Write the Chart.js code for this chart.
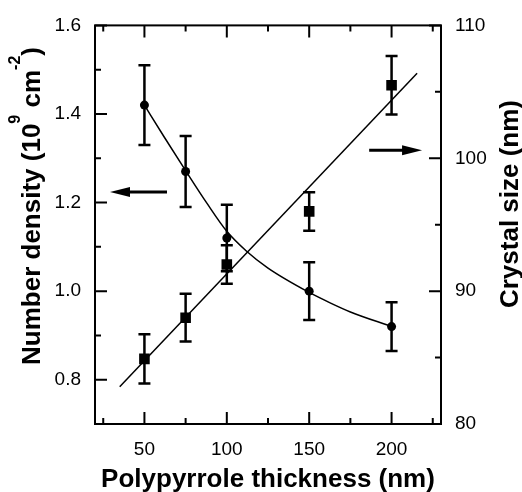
<!DOCTYPE html>
<html>
<head>
<meta charset="utf-8">
<script src="https://cdn.jsdelivr.net/npm/chart.js@4.4.1/dist/chart.umd.min.js"></script>
<style>
  body { margin: 0; background: #fff; }
</style>
</head>
<body>
<canvas id="grafico" width="522" height="492"></canvas>
<script>
// measured points
const thickness = [50, 75, 100, 150, 200];
const density = [1.42, 1.27, 1.12, 1.00, 0.92];
const densityErr = [0.09, 0.08, 0.075, 0.065, 0.055];
const crystal = [84.9, 88.0, 92.0, 96.0, 105.5];
const crystalErr = [1.85, 1.8, 1.45, 1.45, 2.2];

// fitted curves
const curveX = [50, 62, 75, 88, 100, 112, 125, 150, 163, 175, 200];
const curveDensity = [1.42, 1.348, 1.272, 1.198, 1.135, 1.09, 1.052, 0.997, 0.973, 0.953, 0.92];
const lineX = [35, 215.5];
const lineCrystal = [82.8, 106.4];

// arrows showing which axis belongs to which curve
const arrowLeftX = [63.7, 29.1];
const arrowLeftY = 1.224;
const arrowRightX = [186.4, 218.5];
const arrowRightY = 100.6;

// ticks
const xMajor = [50, 100, 150, 200];
const xMinor = [25, 75, 125, 175, 225];
const yMajor = [0.8, 1.0, 1.2, 1.4, 1.6];
const yMinor = [0.9, 1.1, 1.3, 1.5];
const y1Major = [80, 90, 100, 110];
const y1Minor = [85, 95, 105];

const FONT = '"Liberation Sans", Arial, sans-serif';

function pts(xs, ys) {
  return xs.map((x, i) => ({ x: x, y: ys[i] }));
}

const extras = {
  id: 'extras',
  afterDatasetsDraw(chart) {
    const ctx = chart.ctx;
    const sx = chart.scales.x, sy = chart.scales.y, sy1 = chart.scales.y1;
    const a = chart.chartArea;
    ctx.save();
    ctx.strokeStyle = '#000';
    ctx.fillStyle = '#000';

    // error bars
    ctx.lineWidth = 2.5;
    function errBar(x, v, e, s) {
      const px = sx.getPixelForValue(x);
      const top = s.getPixelForValue(v + e), bot = s.getPixelForValue(v - e);
      ctx.beginPath();
      ctx.moveTo(px, top); ctx.lineTo(px, bot);
      ctx.moveTo(px - 6, top); ctx.lineTo(px + 6, top);
      ctx.moveTo(px - 6, bot); ctx.lineTo(px + 6, bot);
      ctx.stroke();
    }
    thickness.forEach((x, i) => {
      errBar(x, density[i], densityErr[i], sy);
      errBar(x, crystal[i], crystalErr[i], sy1);
    });

    // arrows
    function arrow(x0, x1, yv, s) {
      const p0 = sx.getPixelForValue(x0), p1 = sx.getPixelForValue(x1);
      const py = s.getPixelForValue(yv);
      const dir = p1 > p0 ? 1 : -1;
      ctx.lineWidth = 3;
      ctx.beginPath();
      ctx.moveTo(p0, py); ctx.lineTo(p1 - dir * 14, py);
      ctx.stroke();
      ctx.beginPath();
      ctx.moveTo(p1, py);
      ctx.lineTo(p1 - dir * 20, py - 5);
      ctx.lineTo(p1 - dir * 20, py + 5);
      ctx.closePath();
      ctx.fill();
    }
    arrow(arrowLeftX[0], arrowLeftX[1], arrowLeftY, sy);
    arrow(arrowRightX[0], arrowRightX[1], arrowRightY, sy1);

    // frame
    ctx.lineWidth = 2;
    ctx.strokeRect(a.left, a.top, a.right - a.left, a.bottom - a.top);

    // inward ticks, bottom and top
    ctx.beginPath();
    xMajor.concat(xMinor).forEach(v => {
      const len = xMajor.includes(v) ? 12 : 6;
      const px = sx.getPixelForValue(v);
      ctx.moveTo(px, a.bottom); ctx.lineTo(px, a.bottom - len);
      ctx.moveTo(px, a.top); ctx.lineTo(px, a.top + len);
    });
    yMajor.concat(yMinor).forEach(v => {
      const len = yMajor.includes(v) ? 12 : 6;
      const py = sy.getPixelForValue(v);
      ctx.moveTo(a.left, py); ctx.lineTo(a.left + len, py);
    });
    y1Major.concat(y1Minor).forEach(v => {
      const len = y1Major.includes(v) ? 12 : 6;
      const py = sy1.getPixelForValue(v);
      ctx.moveTo(a.right, py); ctx.lineTo(a.right - len, py);
    });
    ctx.stroke();
    ctx.restore();
  },
  afterDraw(chart) {
    const ctx = chart.ctx;
    ctx.save();
    ctx.fillStyle = '#000';
    ctx.textBaseline = 'alphabetic';

    // x title
    ctx.font = 'bold 26px ' + FONT;
    ctx.textAlign = 'center';
    ctx.fillText('Polypyrrole thickness (nm)', 268, 487);

    // right title
    ctx.save();
    ctx.translate(508, 204);
    ctx.rotate(-Math.PI / 2);
    ctx.fillText('Crystal size (nm)', 0, 9.5);
    ctx.restore();

    // left title with superscripts
    const parts = [
      { t: 'Number density (10', sup: false },
      { t: '9', sup: true },
      { t: ' cm', sup: false },
      { t: '-2', sup: true },
      { t: ')', sup: false }
    ];
    const big = 'bold 26px ' + FONT, small = 'bold 16px ' + FONT;
    let total = 0;
    parts.forEach(p => { ctx.font = p.sup ? small : big; p.w = ctx.measureText(p.t).width; total += p.w; });
    ctx.save();
    ctx.translate(30, 206);
    ctx.rotate(-Math.PI / 2);
    ctx.textAlign = 'left';
    let cx = -total / 2;
    parts.forEach(p => {
      ctx.font = p.sup ? small : big;
      ctx.fillText(p.t, cx, p.sup ? -10 : 10);
      cx += p.w;
    });
    ctx.restore();
    ctx.restore();
  }
};

new Chart(document.getElementById('grafico'), {
  type: 'scatter',
  data: {
    datasets: [
      {
        label: 'Number density',
        data: pts(thickness, density),
        yAxisID: 'y',
        pointStyle: 'circle',
        pointRadius: 4.5,
        backgroundColor: '#000',
        borderColor: '#000',
        borderWidth: 0
      },
      {
        label: 'Crystal size',
        data: pts(thickness, crystal),
        yAxisID: 'y1',
        pointStyle: 'rect',
        pointRadius: 7.5,
        backgroundColor: '#000',
        borderColor: '#000',
        borderWidth: 0
      },
      {
        label: 'density fit',
        data: pts(curveX, curveDensity),
        yAxisID: 'y',
        showLine: true,
        pointRadius: 0,
        borderColor: '#000',
        borderWidth: 1.5,
        cubicInterpolationMode: 'monotone'
      },
      {
        label: 'size fit',
        data: pts(lineX, lineCrystal),
        yAxisID: 'y1',
        showLine: true,
        pointRadius: 0,
        borderColor: '#000',
        borderWidth: 1.5
      }
    ]
  },
  options: {
    responsive: false,
    animation: false,
    layout: { padding: { top: 22, left: 0, right: 0, bottom: 0 } },
    plugins: { legend: { display: false }, tooltip: { enabled: false } },
    scales: {
      x: {
        type: 'linear',
        min: 20, max: 230,
        grid: { display: false, drawTicks: false },
        border: { display: false },
        afterBuildTicks: s => { s.ticks = xMajor.map(v => ({ value: v })); },
        afterFit: s => { s.height = 68; },
        ticks: { padding: 14, color: '#000', font: { family: FONT, size: 19 } }
      },
      y: {
        type: 'linear',
        position: 'left',
        min: 0.7, max: 1.6,
        grid: { display: false, drawTicks: false },
        border: { display: false },
        afterBuildTicks: s => { s.ticks = yMajor.map(v => ({ value: v })); },
        afterFit: s => { s.width = 95; },
        ticks: { padding: 14, color: '#000', font: { family: FONT, size: 19 }, callback: v => v.toFixed(1) }
      },
      y1: {
        type: 'linear',
        position: 'right',
        min: 80, max: 110,
        grid: { display: false, drawTicks: false },
        border: { display: false },
        afterBuildTicks: s => { s.ticks = y1Major.map(v => ({ value: v })); },
        afterFit: s => { s.width = 81; },
        ticks: { padding: 14, color: '#000', font: { family: FONT, size: 19 } }
      }
    }
  },
  plugins: [extras]
});
</script>
</body>
</html>
